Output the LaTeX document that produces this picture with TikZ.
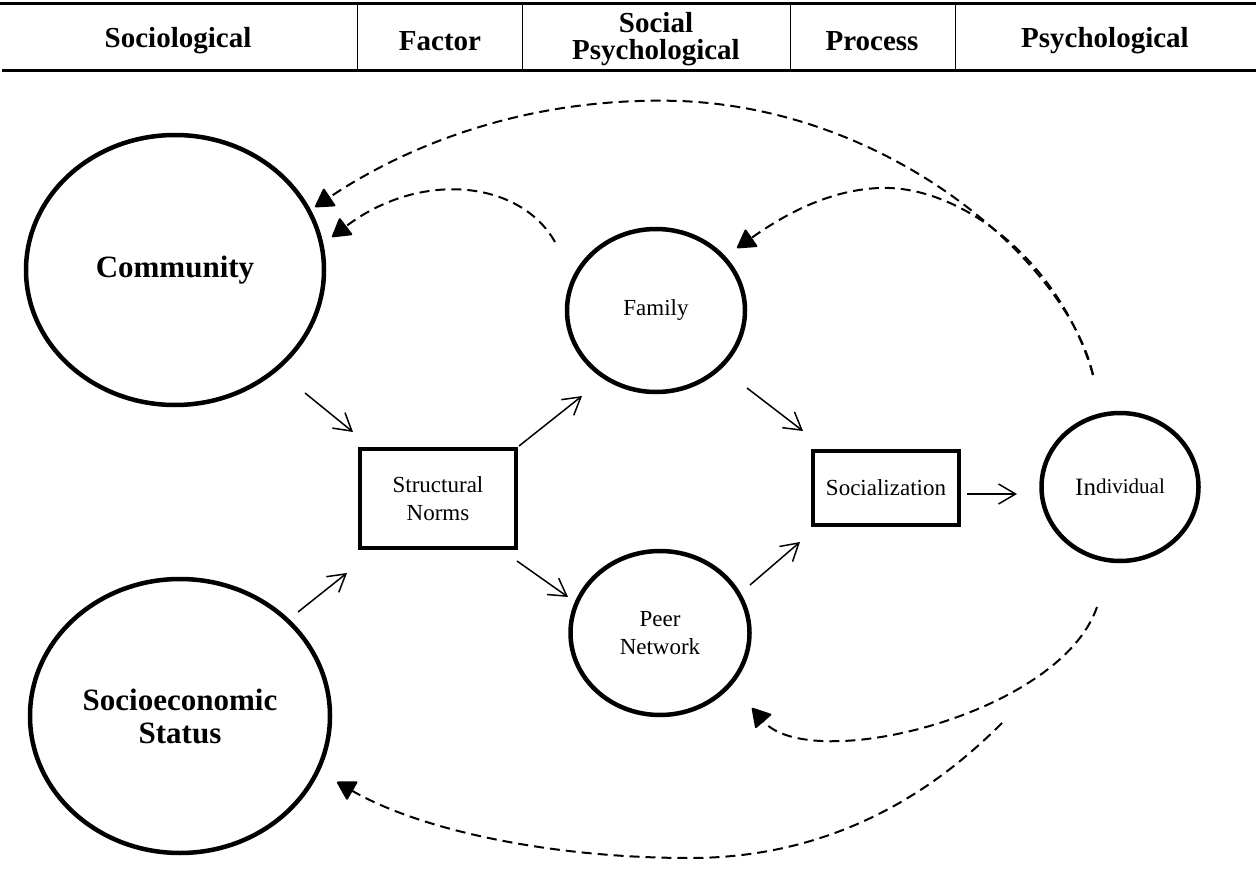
\documentclass[tikz,border=0pt]{standalone}
\usepackage{fontspec}
\setmainfont{Liberation Serif}
\usetikzlibrary{shapes.geometric,arrows.meta}
\begin{document}
\begin{tikzpicture}[x=1pt,y=-1pt,
  bigell/.style={ellipse,draw,line width=4.5pt,inner sep=0pt,font=\fontsize{31}{33}\selectfont\bfseries,align=center},
  smallell/.style={ellipse,draw,line width=4.5pt,inner sep=0pt,font=\fontsize{23}{28}\selectfont,align=center},
  boxn/.style={draw,line width=4.5pt,inner sep=0pt,font=\fontsize{23}{28}\selectfont,align=center},
  hdr/.style={font=\fontsize{29}{27}\selectfont\bfseries,align=center},
  rule/.style={line width=3pt},
  sep/.style={line width=1pt},
  arr/.style={line width=1.5pt,-{Straight Barb[length=17pt,width=20pt]}},
  fb/.style={line width=2pt,dash pattern=on 10pt off 6pt,-{Triangle[length=19pt,width=22pt,round]}},
]
\useasboundingbox (0,0) rectangle (1256,877);
% header table
\draw[rule] (0,4) -- (1256,4);
\draw[rule] (2,71) -- (1256,71);
\foreach \x in {357,522,790,955} \draw[sep] (\x,4) -- (\x,71);
\node[hdr] (h1) at (178,41) {Sociological};
\node[hdr] (h2) at (440,41) {Factor};
\node[hdr] (h3) at (656,39) {Social\\Psychological};
\node[hdr] (h4) at (872,41) {Process};
\node[hdr] (h5) at (1105,41) {Psychological};
% nodes
\node[bigell,minimum width=298pt,minimum height=270pt] (comm) at (175,270) {Community};
\node[bigell,minimum width=300pt,minimum height=274pt] (ses) at (180,716) {Socioeconomic\\Status};
\node[boxn,minimum width=156pt,minimum height=99pt] (sn) at (438,498.5) {Structural\\Norms};
\node[smallell,minimum width=178pt,minimum height=163pt] (fam) at (656,310.5) {Family};
\node[smallell,minimum width=179pt,minimum height=164pt] (peer) at (660,633) {Peer\\Network};
\node[boxn,minimum width=146pt,minimum height=74pt] (soc) at (886,488) {Socialization};
\node[smallell,minimum width=157pt,minimum height=148pt] (ind) at (1120,487)
  {\fontsize{25}{25}\selectfont In\fontsize{21}{21}\selectfont\raisebox{2.5pt}{dividual}};
% solid arrow ends
\coordinate (a1s) at (305,393); \coordinate (a1e) at (353,432);
\coordinate (a2s) at (298,612); \coordinate (a2e) at (347,573);
\coordinate (a3s) at (519,446); \coordinate (a3e) at (582,396);
\coordinate (a4s) at (517,561); \coordinate (a4e) at (568,597);
\coordinate (a5s) at (747,388); \coordinate (a5e) at (803,431);
\coordinate (a6s) at (750,585); \coordinate (a6e) at (800,542);
\coordinate (a7s) at (967,494); \coordinate (a7e) at (1017,494);
\draw[arr] (a1s) -- (a1e);
\draw[arr] (a2s) -- (a2e);
\draw[arr] (a3s) -- (a3e);
\draw[arr] (a4s) -- (a4e);
\draw[arr] (a5s) -- (a5e);
\draw[arr] (a6s) -- (a6e);
\draw[arr] (a7s) -- (a7e);
% feedback dashed arrows
\coordinate (d1s) at (1093,375);
\coordinate (d1e) at (315,207);
\coordinate (d2e) at (737,248);
\coordinate (d3s) at (555,242); \coordinate (d3e) at (332,237);
\coordinate (d4s) at (1097,607); \coordinate (d4e) at (752,708);
\coordinate (d5s) at (1002,723); \coordinate (d5e) at (337,782);
\draw[fb] (d1s) .. controls (1070,270) and (900,110) .. (680,101) .. controls (520,96) and (400,150) .. (d1e);
\draw[fb] (d1s) .. controls (1060,260) and (960,185) .. (880,188) .. controls (820,190) and (770,225) .. (d2e);
\draw[fb] (d3s) .. controls (520,180) and (420,170) .. (d3e);
\draw[fb] (d4s) .. controls (1060,715) and (810,775) .. (d4e);
\draw[fb] (d5s) .. controls (950,775) and (850,858) .. (690,858) .. controls (550,858) and (420,830) .. (d5e);
\end{tikzpicture}
\end{document}
